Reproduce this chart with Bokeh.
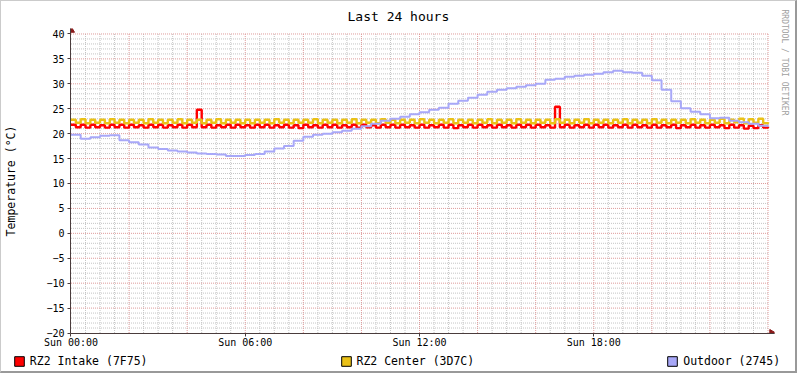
import numpy as np
from math import pi
from bokeh.plotting import figure
from bokeh.models import Range1d, FixedTicker, Legend, LegendItem, Title
from bokeh.layouts import column
from bokeh.embed import file_html
from bokeh.resources import INLINE

# ---------------- data ----------------
title_text = "Last 24 hours"
y_label = "Temperature (°C)"
watermark = "RRDTOOL / TOBI OETIKER"
x_tick_hours = [0, 6, 12, 18]
x_tick_labels = ["Sun 00:00", "Sun 06:00", "Sun 12:00", "Sun 18:00"]
y_ticks = [-20, -15, -10, -5, 0, 5, 10, 15, 20, 25, 30, 35, 40]
series_names = ["RZ2 Intake (7F75)", "RZ2 Center (3D7C)", "Outdoor (2745)"]
series_colors = ["#FF0000", "#EAC117", "#A8A8F8"]

# RZ2 Intake, 10 minute samples from 00:00 to 24:00
intake = [
    21.8, 21.3, 21.8, 21.2, 21.8, 21.3, 21.7, 21.2, 21.8, 21.3, 21.8, 21.2,
    21.8, 21.3, 21.7, 21.2, 21.8, 21.3, 21.8, 21.2, 21.7, 21.3, 21.8, 21.2,
    21.8, 21.3, 24.8, 21.3, 21.8, 21.2, 21.7, 21.3, 21.8, 21.2, 21.8, 21.3,
    21.7, 21.2, 21.8, 21.3, 21.8, 21.2, 21.7, 21.3, 21.8, 21.2, 21.7, 21.1,
    21.8, 21.3, 21.7, 21.2, 21.8, 21.3, 21.8, 21.2, 21.7, 21.3, 21.8, 21.2,
    21.8, 21.3, 21.7, 21.2, 21.8, 21.3, 21.8, 21.2, 21.8, 21.3, 21.7, 21.2,
    21.8, 21.2, 21.7, 21.3, 21.8, 21.2, 21.8, 21.1, 21.7, 21.3, 21.8, 21.2,
    21.8, 21.3, 21.7, 21.2, 21.8, 21.3, 21.7, 21.2, 21.8, 21.3, 21.8, 21.2,
    21.8, 21.3, 21.7, 21.2, 25.4, 21.3, 21.8, 21.2, 21.7, 21.3, 21.8, 21.2,
    21.8, 21.3, 21.8, 21.2, 21.7, 21.3, 21.8, 21.2, 21.8, 21.3, 21.7, 21.2,
    21.8, 21.2, 21.7, 21.3, 21.8, 21.1, 21.7, 21.3, 21.8, 21.2, 21.7, 21.2,
    21.8, 21.3, 21.7, 21.1, 21.8, 21.2, 21.7, 21.0, 21.6, 21.1, 21.7, 21.2,
    21.4,
]

# RZ2 Center, 10 minute samples
center = [
    22.8, 22.2, 22.9, 22.1, 22.8, 22.2, 22.8, 22.1, 22.9, 22.2, 22.8, 22.1,
    22.8, 22.2, 22.8, 22.1, 22.9, 22.2, 22.8, 22.1, 22.8, 22.2, 22.9, 22.1,
    22.8, 22.2, 22.8, 22.1, 22.8, 22.2, 22.9, 22.1, 22.8, 22.2, 22.8, 22.1,
    22.8, 22.1, 22.8, 22.2, 22.8, 22.1, 22.9, 22.2, 22.8, 22.1, 22.8, 22.2,
    22.8, 22.2, 22.9, 22.1, 22.8, 22.2, 22.8, 22.1, 22.8, 22.2, 22.9, 22.1,
    22.8, 22.2, 22.8, 22.1, 22.9, 22.2, 22.8, 22.1, 22.8, 22.2, 22.8, 22.1,
    22.9, 22.2, 22.8, 22.1, 22.8, 22.2, 22.9, 22.1, 22.8, 22.2, 22.8, 22.1,
    22.8, 22.2, 22.9, 22.1, 22.8, 22.2, 22.8, 22.1, 22.9, 22.2, 22.8, 22.1,
    22.8, 22.2, 22.8, 22.1, 22.9, 22.2, 22.8, 22.1, 22.8, 22.2, 22.9, 22.1,
    22.8, 22.2, 22.8, 22.1, 22.8, 22.2, 22.9, 22.1, 22.8, 22.2, 22.8, 22.1,
    22.9, 22.2, 22.8, 22.1, 22.8, 22.2, 22.8, 22.1, 22.9, 22.2, 22.8, 22.1,
    22.8, 22.2, 23.0, 22.1, 22.8, 22.3, 23.0, 22.1, 22.9, 22.2, 23.0, 22.1,
    22.3,
]

# Outdoor, 20 minute samples
outdoor = [
    19.8, 19.0, 19.3, 19.6, 19.7, 18.7, 18.3, 17.8, 17.2, 16.9, 16.6, 16.4,
    16.2, 16.0, 15.9, 15.8, 15.5, 15.5, 15.7, 15.9, 16.4, 17.0, 17.5, 18.6,
    19.4, 19.8, 20.0, 20.3, 20.6, 21.0, 21.5, 22.0, 22.6, 23.0, 23.4, 23.9,
    24.3, 24.8, 25.2, 26.0, 26.6, 27.2, 27.8, 28.4, 28.8, 29.1, 29.4, 29.7,
    30.0, 30.8, 31.0, 31.4, 31.6, 31.8, 32.0, 32.3, 32.6, 32.3, 32.2, 31.6,
    30.7, 28.8, 26.5, 25.1, 24.4, 23.9, 23.1, 23.2, 22.6, 22.3, 22.0, 21.6,
    21.4,
]

t10 = np.arange(len(intake)) / 6.0
t20 = np.arange(len(outdoor)) / 3.0

FONT = "DejaVu Sans Mono"
AXIS_COLOR = "#4A3C3C"
ARROW_COLOR = "#8B1A1A"
MINOR_COLOR = "#C4C4C4"
MAJOR_COLOR = "#DE9A9A"

X_END = 24
Y_MIN, Y_MAX = y_ticks[0], y_ticks[-1]
X_PAD = 0.24          # room for the arrow at the right end of the time axis
Y_PAD = 1.2           # room for the arrow at the top of the value axis
XS = 0.5 / 29.1667    # half-pixel shift so that 1px lines land on pixels
YS = 0.1

W = 794
p = figure(
    width=W, height=352,
    x_range=Range1d(0 - XS, X_END + X_PAD - XS),
    y_range=Range1d(Y_MIN - YS, Y_MAX + Y_PAD - YS),
    output_backend="svg", toolbar_location=None,
    min_border_left=66, min_border_right=21, min_border_top=26, min_border_bottom=20,
    background_fill_color="white", border_fill_color="white",
)
p.frame_align = False
p.outline_line_color = None
p.xgrid.visible = False
p.ygrid.visible = False

p.title.text = title_text
p.title.align = "left"
p.title.offset = 277
p.title.standoff = 10
p.title.text_font = FONT
p.title.text_font_size = "13px"
p.title.text_font_style = "normal"
p.title.text_color = "black"

p.add_layout(Title(text=watermark, align="left", offset=-19, standoff=10,
                   text_font=FONT, text_font_size="8px", text_font_style="normal",
                   text_color="#A0A0A0"), "right")

# ---------------- grid ----------------
minor_y = [v for v in range(Y_MIN + 1, Y_MAX) if v % 5 != 0]
major_y = [v for v in y_ticks if v != Y_MIN]
minor_x = [h / 2 for h in range(1, 2 * X_END + 1) if h % 4 != 0]
major_x = [h for h in range(2, X_END + 1, 2)]

p.segment(x0=[0] * len(minor_y), x1=[X_END] * len(minor_y), y0=minor_y, y1=minor_y,
          line_color=MINOR_COLOR, line_width=1, line_dash="1 1")
p.segment(x0=minor_x, x1=minor_x, y0=[Y_MIN] * len(minor_x), y1=[Y_MAX] * len(minor_x),
          line_color=MINOR_COLOR, line_width=1, line_dash="1 1")
p.segment(x0=[0] * len(major_y), x1=[X_END] * len(major_y), y0=major_y, y1=major_y,
          line_color=MAJOR_COLOR, line_width=1, line_dash="1 1")
p.segment(x0=major_x, x1=major_x, y0=[Y_MIN] * len(major_x), y1=[Y_MAX] * len(major_x),
          line_color=MAJOR_COLOR, line_width=1, line_dash="1 1")

# ---------------- series ----------------
p.step(t10, intake, mode="after", line_color=series_colors[0], line_width=2.4)
p.step(t10, center, mode="after", line_color=series_colors[1], line_width=2.4)
p.step(t20, outdoor, mode="after", line_color=series_colors[2], line_width=2)

# arrows at the ends of the axes
p.scatter([0], [Y_MAX + 0.75], marker="triangle", size=7, fill_color=ARROW_COLOR, line_color=ARROW_COLOR)
p.scatter([X_END + 0.13], [Y_MIN], marker="triangle", size=7, angle=-pi / 2,
          fill_color=ARROW_COLOR, line_color=ARROW_COLOR)

# ---------------- axes ----------------
xa = p.xaxis[0]
xa.ticker = FixedTicker(ticks=x_tick_hours)
xa.major_label_overrides = {h: s for h, s in zip(x_tick_hours, x_tick_labels)}
ya = p.yaxis[0]
ya.ticker = FixedTicker(ticks=y_ticks)
ya.axis_label = y_label
for ax in (xa, ya):
    ax.axis_line_color = AXIS_COLOR
    ax.axis_line_width = 1
    ax.major_tick_line_color = AXIS_COLOR
    ax.major_tick_out = 3
    ax.major_tick_in = 0
    ax.minor_tick_line_color = None
    ax.major_label_text_font = FONT
    ax.major_label_text_font_size = "10px"
    ax.major_label_text_color = "black"
xa.major_label_standoff = 0
ya.major_label_standoff = 3
ya.axis_label_text_font = FONT
ya.axis_label_text_font_size = "11.5px"
ya.axis_label_text_font_style = "normal"
ya.axis_label_text_color = "black"
ya.axis_label_standoff = 25

# ---------------- legend strip ----------------
LH = 18
pl = figure(width=W, height=LH, x_range=Range1d(0, W), y_range=Range1d(0, LH),
            x_axis_type=None, y_axis_type=None, output_backend="svg", toolbar_location=None,
            min_border=0, background_fill_color="white", border_fill_color="white")
pl.frame_align = False
pl.outline_line_color = None
pl.xgrid.visible = False
pl.ygrid.visible = False
items = []
for name, color in zip(series_names, series_colors):
    # swatch renderer kept outside the visible range; only its legend entry shows
    r = pl.quad(left=[-20], right=[-10], top=[-10], bottom=[-20], fill_color=color, line_color="black")
    items.append(LegendItem(label=name, renderers=[r]))
legend = Legend(items=items, location=(11.8, 3.5), orientation="horizontal",
                padding=0, margin=0, spacing=192,
                glyph_width=12, glyph_height=12, label_height=14, label_standoff=5,
                label_text_font=FONT, label_text_font_size="11.5px",
                label_text_color="black", background_fill_alpha=0, border_line_alpha=0)
pl.add_layout(legend)

page = column(p, pl, spacing=0, styles={
    "border-left": "1px solid #CBCBCB", "border-top": "1px solid #CBCBCB",
    "border-right": "2px solid #999999", "border-bottom": "2px solid #999999",
})

open("out.html", "w").write(file_html(page, INLINE))
